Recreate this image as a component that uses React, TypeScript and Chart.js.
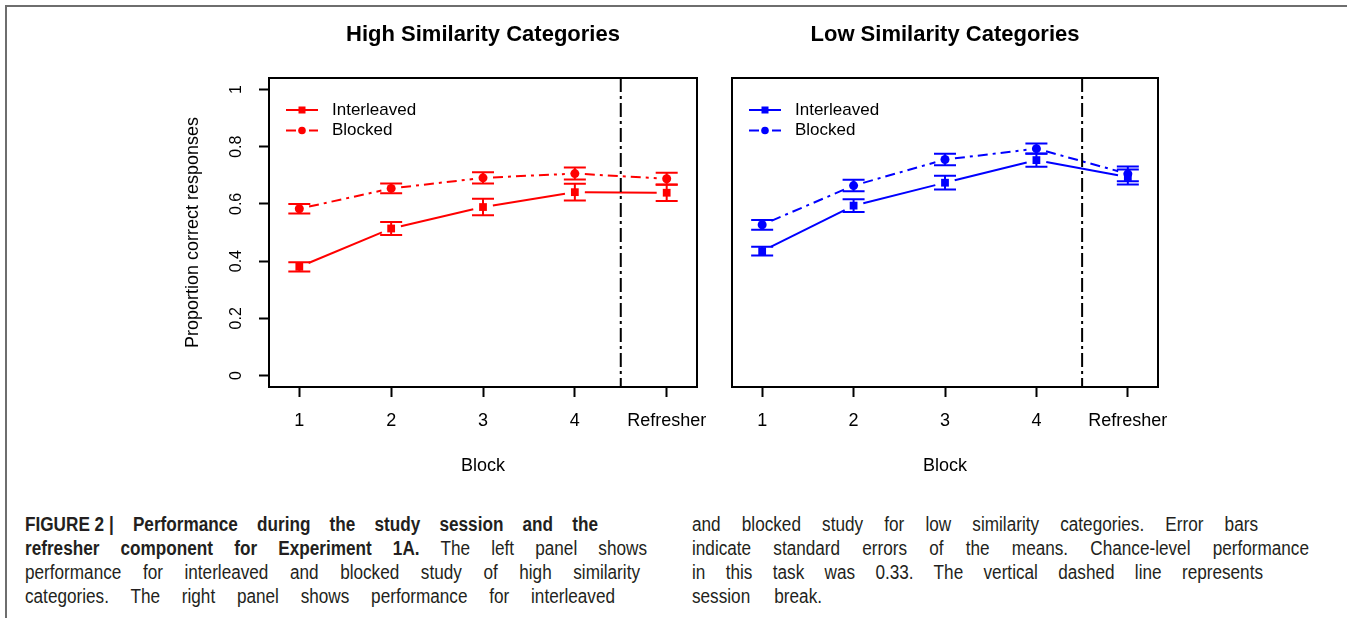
import React, { useEffect, useRef } from 'react';
import { Chart, registerables } from 'chart.js';

Chart.register(...registerables);

// ---------- data ----------
const blocks = [1, 2, 3, 4, 5];
const blockLabels = ['1', '2', '3', '4', 'Refresher'];
const sessionBreak = 4.5;
const yTicks = [0, 0.2, 0.4, 0.6, 0.8, 1];
const yTickLabels = ['0', '0.2', '0.4', '0.6', '0.8', '1'];

const highInterleaved = [0.38, 0.514, 0.589, 0.641, 0.639];
const highInterleavedSE = [0.016, 0.023, 0.029, 0.029, 0.029];
const highBlocked = [0.583, 0.654, 0.691, 0.706, 0.688];
const highBlockedSE = [0.017, 0.017, 0.02, 0.021, 0.021];

const lowInterleaved = [0.435, 0.594, 0.674, 0.753, 0.694];
const lowInterleavedSE = [0.015, 0.022, 0.024, 0.023, 0.026];
const lowBlocked = [0.527, 0.664, 0.755, 0.793, 0.705];
const lowBlockedSE = [0.017, 0.02, 0.02, 0.018, 0.026];

const seriesNames = ['Interleaved', 'Blocked'];

const FONT = "'Liberation Sans', Arial, Helvetica, sans-serif";
const CAPTION_FONT = "'Liberation Sans', Arial, sans-serif";
const CAPTION_SCALE = 0.88;

const BLOCKED_DASH = [10, 5, 3, 5];
const BREAK_DASH = [14, 4, 3, 4];

// ---------- plugins ----------
const gapLinesPlugin = {
  id: 'gapLines',
  beforeDatasetsDraw(chart: any) {
    const ctx = chart.ctx;
    chart.data.datasets.forEach((ds: any, i: number) => {
      const pts = chart.getDatasetMeta(i).data;
      ctx.save();
      ctx.strokeStyle = ds.borderColor;
      ctx.lineWidth = 2;
      ctx.setLineDash(ds.borderDash || []);
      for (let j = 0; j < pts.length - 1; j++) {
        const a = pts[j];
        const b = pts[j + 1];
        const dx = b.x - a.x;
        const dy = b.y - a.y;
        const len = Math.hypot(dx, dy);
        const g = 10;
        if (len <= 2 * g) continue;
        const ux = dx / len;
        const uy = dy / len;
        ctx.lineDashOffset = 0;
        ctx.beginPath();
        ctx.moveTo(a.x + ux * g, a.y + uy * g);
        ctx.lineTo(b.x - ux * g, b.y - uy * g);
        ctx.stroke();
      }
      ctx.restore();
    });
  },
};

const errorBarsPlugin = {
  id: 'errorBars',
  afterDatasetsDraw(chart: any) {
    const ctx = chart.ctx;
    const ys = chart.scales.y;
    chart.data.datasets.forEach((ds: any, i: number) => {
      const pts = chart.getDatasetMeta(i).data;
      ctx.save();
      ctx.strokeStyle = ds.borderColor;
      ctx.lineWidth = 2;
      ctx.setLineDash([]);
      ds.errors.forEach((e: number, j: number) => {
        const p = pts[j];
        const v = ds.data[j].y;
        const top = ys.getPixelForValue(v + e);
        const bot = ys.getPixelForValue(v - e);
        ctx.beginPath();
        ctx.moveTo(p.x, top);
        ctx.lineTo(p.x, bot);
        ctx.moveTo(p.x - 11, top);
        ctx.lineTo(p.x + 11, top);
        ctx.moveTo(p.x - 11, bot);
        ctx.lineTo(p.x + 11, bot);
        ctx.stroke();
      });
      ctx.restore();
    });
  },
};

const framePlugin = {
  id: 'frame',
  afterDraw(chart: any) {
    const ctx = chart.ctx;
    const { left, right, top, bottom } = chart.chartArea;
    const xs = chart.scales.x;
    ctx.save();
    // session break
    const bx = xs.getPixelForValue(sessionBreak);
    ctx.strokeStyle = '#000';
    ctx.lineWidth = 2;
    ctx.setLineDash(BREAK_DASH);
    ctx.beginPath();
    ctx.moveTo(bx, top);
    ctx.lineTo(bx, bottom);
    ctx.stroke();
    // box
    ctx.setLineDash([]);
    ctx.strokeRect(left, top, right - left, bottom - top);
    // legend
    chart.data.datasets.forEach((ds: any, k: number) => {
      const y = top + 32 + k * 20.5;
      const x0 = left + 17;
      const x1 = left + 49;
      const xm = (x0 + x1) / 2;
      ctx.strokeStyle = ds.borderColor;
      ctx.fillStyle = ds.borderColor;
      ctx.lineWidth = 2;
      ctx.setLineDash(ds.borderDash || []);
      ctx.beginPath();
      ctx.moveTo(x0, y);
      ctx.lineTo(x1, y);
      ctx.stroke();
      ctx.setLineDash([]);
      if (ds.pointStyle === 'rect') {
        ctx.fillRect(xm - 3.5, y - 3.5, 7, 7);
      } else {
        ctx.beginPath();
        ctx.arc(xm, y, 3.8, 0, Math.PI * 2);
        ctx.fill();
      }
      ctx.fillStyle = '#000';
      ctx.font = `17px ${FONT}`;
      ctx.textAlign = 'left';
      ctx.textBaseline = 'middle';
      ctx.fillText(ds.label, left + 63, y);
    });
    ctx.restore();
  },
};

// ---------- panel ----------
type PanelProps = {
  title: string;
  color: string;
  interleaved: number[];
  interleavedSE: number[];
  blocked: number[];
  blockedSE: number[];
  showY: boolean;
  left: number;
  width: number;
  padLeft: number;
  padRight: number;
};

function Panel(p: PanelProps) {
  const ref = useRef<HTMLCanvasElement | null>(null);
  useEffect(() => {
    if (!ref.current) return;
    const toPts = (vals: number[]) => blocks.map((b, i) => ({ x: b, y: vals[i] }));
    const chart = new Chart(ref.current, {
      type: 'line',
      data: {
        datasets: [
          {
            label: seriesNames[0],
            data: toPts(p.interleaved),
            errors: p.interleavedSE,
            borderColor: p.color,
            backgroundColor: p.color,
            borderDash: [],
            showLine: false,
            pointStyle: 'rect',
            pointRadius: 5.5,
            pointBorderWidth: 0,
          } as any,
          {
            label: seriesNames[1],
            data: toPts(p.blocked),
            errors: p.blockedSE,
            borderColor: p.color,
            backgroundColor: p.color,
            borderDash: BLOCKED_DASH,
            showLine: false,
            pointStyle: 'circle',
            pointRadius: 4.5,
            pointBorderWidth: 0,
          } as any,
        ],
      },
      options: {
        animation: false,
        responsive: false,
        maintainAspectRatio: false,
        events: [],
        layout: { padding: { left: p.padLeft, right: p.padRight, top: 0, bottom: 0 } },
        plugins: {
          legend: { display: false },
          tooltip: { enabled: false },
          title: {
            display: true,
            text: p.title,
            fullSize: false,
            color: '#000',
            font: { family: FONT, size: 22, weight: 'bold' },
            padding: { top: 21.5, bottom: 30.1 },
          },
        },
        scales: {
          x: {
            type: 'linear',
            min: 0.67,
            max: 5.33,
            afterBuildTicks: (s: any) => {
              s.ticks = blocks.map((v) => ({ value: v }));
            },
            afterFit: (s: any) => {
              s.height = 103;
              s.paddingLeft = 0;
              s.paddingRight = 0;
            },
            ticks: {
              autoSkip: false,
              maxRotation: 0,
              minRotation: 0,
              padding: 13.2,
              color: '#000',
              font: { family: FONT, size: 18 },
              callback: (v: any) => {
                const i = blocks.indexOf(Number(v));
                return i >= 0 ? blockLabels[i] : '';
              },
            },
            grid: {
              drawOnChartArea: false,
              drawTicks: true,
              tickLength: 10,
              tickColor: '#000',
              tickWidth: 2,
            },
            border: { display: false },
            title: {
              display: true,
              text: 'Block',
              color: '#000',
              font: { family: FONT, size: 18 },
              padding: { top: 0, bottom: 13.2 },
            },
          },
          y: {
            type: 'linear',
            min: -0.04,
            max: 1.04,
            display: p.showY,
            afterBuildTicks: (s: any) => {
              s.ticks = yTicks.map((v) => ({ value: v }));
            },
            afterFit: (s: any) => {
              s.width = p.showY ? 269 : 0;
              s.paddingTop = 0;
              s.paddingBottom = 0;
            },
            ticks: {
              minRotation: 90,
              maxRotation: 90,
              crossAlign: 'center',
              padding: 11,
              color: '#000',
              font: { family: FONT, size: 16 },
              callback: (v: any) => {
                const i = yTicks.findIndex((t) => Math.abs(t - Number(v)) < 1e-9);
                return i >= 0 ? yTickLabels[i] : '';
              },
            },
            grid: {
              drawOnChartArea: false,
              drawTicks: true,
              tickLength: 10,
              tickColor: '#000',
              tickWidth: 2,
            },
            border: { display: false },
            title: {
              display: true,
              text: 'Proportion correct responses',
              color: '#000',
              font: { family: FONT, size: 18 },
              padding: { top: 182.2, bottom: 0 },
            },
          },
        },
      } as any,
      plugins: [gapLinesPlugin, errorBarsPlugin, framePlugin],
    });
    return () => chart.destroy();
  }, []);
  return (
    <canvas
      ref={ref}
      width={p.width}
      height={490}
      style={{ position: 'absolute', left: p.left, top: 0, width: p.width, height: 490 }}
    />
  );
}

// ---------- caption ----------
type Seg = { t: string; b?: boolean; atom?: boolean };
type Line = { x: number; y: number; w: number; segs: Seg[] };

const captionLines: Line[] = [
  {
    x: 25,
    y: 512,
    w: 573,
    segs: [
      { t: 'FIGURE 2 |', b: true, atom: true },
      { t: ' Performance during the study session and the', b: true },
    ],
  },
  {
    x: 25,
    y: 536,
    w: 622,
    segs: [
      { t: 'refresher component for Experiment 1A.', b: true },
      { t: ' The left panel shows' },
    ],
  },
  { x: 25, y: 560, w: 615, segs: [{ t: 'performance for interleaved and blocked study of high similarity' }] },
  { x: 25, y: 584, w: 590, segs: [{ t: 'categories. The right panel shows performance for interleaved' }] },
  { x: 692, y: 512, w: 566, segs: [{ t: 'and blocked study for low similarity categories. Error bars' }] },
  { x: 692, y: 536, w: 617, segs: [{ t: 'indicate standard errors of the means. Chance-level performance' }] },
  { x: 692, y: 560, w: 571, segs: [{ t: 'in this task was 0.33. The vertical dashed line represents' }] },
  { x: 692, y: 584, w: 130, segs: [{ t: 'session break.' }] },
];

export default function App() {
  return (
    <div
      style={{
        position: 'absolute',
        left: 0,
        top: 0,
        width: 1347,
        height: 618,
        background: '#fff',
        overflow: 'hidden',
      }}
    >
      <div
        style={{
          position: 'absolute',
          left: 5,
          top: 5,
          right: 0,
          bottom: 0,
          borderTop: '2px solid #6e6e6e',
          borderLeft: '2px solid #6e6e6e',
        }}
      />
      <Panel
        title="High Similarity Categories"
        color="#ff0000"
        interleaved={highInterleaved}
        interleavedSE={highInterleavedSE}
        blocked={highBlocked}
        blockedSE={highBlockedSE}
        showY={true}
        left={0}
        width={720}
        padLeft={0}
        padRight={23}
      />
      <Panel
        title="Low Similarity Categories"
        color="#0000ff"
        interleaved={lowInterleaved}
        interleavedSE={lowInterleavedSE}
        blocked={lowBlocked}
        blockedSE={lowBlockedSE}
        showY={false}
        left={700}
        width={647}
        padLeft={32}
        padRight={189}
      />
      {captionLines.map((ln, i) => (
        <div
          key={i}
          style={{
            position: 'absolute',
            left: ln.x,
            top: ln.y,
            width: ln.w / CAPTION_SCALE,
            height: 24,
            lineHeight: '24px',
            fontFamily: CAPTION_FONT,
            fontSize: 19.5,
            color: '#231f20',
            textAlign: 'justify',
            textAlignLast: 'justify',
            whiteSpace: 'nowrap',
            transform: `scaleX(${CAPTION_SCALE})`,
            transformOrigin: '0 0',
          }}
        >
          {ln.segs.map((s, j) => (
            <span
              key={j}
              style={{
                fontWeight: s.b ? 'bold' : 'normal',
                display: s.atom ? 'inline-block' : 'inline',
              }}
            >
              {s.t}
            </span>
          ))}
        </div>
      ))}
    </div>
  );
}
